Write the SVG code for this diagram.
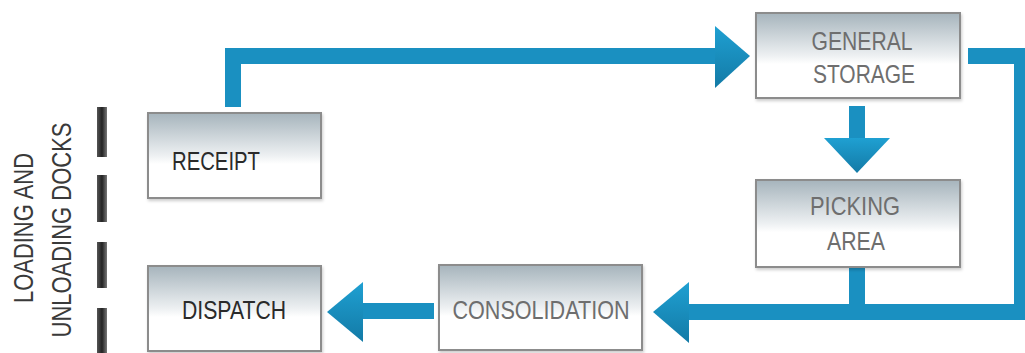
<svg xmlns="http://www.w3.org/2000/svg" width="1025" height="353" viewBox="0 0 1025 353">
<defs>
<linearGradient id="boxg" x1="0" y1="0" x2="0" y2="1">
<stop offset="0" stop-color="#a6b4bc"/>
<stop offset="0.5" stop-color="#edf0f2"/>
<stop offset="0.6" stop-color="#ffffff"/>
<stop offset="1" stop-color="#ffffff"/>
</linearGradient>
<linearGradient id="dock" x1="0" y1="0" x2="1" y2="0">
<stop offset="0" stop-color="#555"/>
<stop offset="0.5" stop-color="#222"/>
<stop offset="1" stop-color="#777"/>
</linearGradient>
<linearGradient id="headg" x1="0" y1="0" x2="0" y2="1">
<stop offset="0" stop-color="#1fa0d2"/>
<stop offset="1" stop-color="#137aa6"/>
</linearGradient>
<filter id="sh" x="-10%" y="-10%" width="120%" height="130%">
<feDropShadow dx="1" dy="2" stdDeviation="1.5" flood-color="#000" flood-opacity="0.2"/>
</filter>
</defs>
<style>
.box{fill:url(#boxg);stroke:#8c8c8c;stroke-width:2;filter:url(#sh)}
.lbl{font-family:"Liberation Sans",Arial,sans-serif;font-size:26px;text-anchor:middle}
.dark{fill:#2a2a2a}
.grey{fill:#6e6e6e}
.side{font-family:"Liberation Sans",Arial,sans-serif;font-size:27px;fill:#3a3a3a;text-anchor:middle}
.shaft{fill:none;stroke:#1a90c1;stroke-width:16;stroke-linejoin:miter;stroke-linecap:butt}
.head{fill:url(#headg)}
.dk{fill:url(#dock)}
</style>
<rect width="1025" height="353" fill="#ffffff"/>

<g id="docks">
<rect class="dk" x="97" y="107" width="10" height="50"/>
<rect class="dk" x="97" y="175" width="10" height="47"/>
<rect class="dk" x="97" y="242" width="10" height="46"/>
<rect class="dk" x="97" y="308" width="10" height="45"/>
<text class="side" transform="translate(33,228) rotate(-90)" textLength="150" lengthAdjust="spacingAndGlyphs">LOADING AND</text>
<text class="side" transform="translate(71,230) rotate(-90)" textLength="215" lengthAdjust="spacingAndGlyphs">UNLOADING DOCKS</text>
</g>

<g id="connectors">
<path class="shaft" d="M233 107 V56 H716"/>
<polygon class="head" points="715,26 750,56 715,88"/>
<path class="shaft" d="M857 106 V140"/>
<polygon class="head" points="824,138 890,138 857,173"/>
<path class="shaft" d="M968 56 H1022 V312 H688"/>
<polygon class="head" points="689,282 653,312 689,343"/>
<path class="shaft" d="M857 268 V312"/>
<path class="shaft" d="M434 311 H361"/>
<polygon class="head" points="363,282 327,312 363,342"/>
</g>

<g id="receipt">
<rect class="box" x="148" y="113" width="173" height="85"/>
<text class="lbl dark" x="216" y="170" textLength="88" lengthAdjust="spacingAndGlyphs">RECEIPT</text>
</g>

<g id="dispatch">
<rect class="box" x="148" y="266" width="173" height="85"/>
<text class="lbl dark" x="234" y="319" textLength="104" lengthAdjust="spacingAndGlyphs">DISPATCH</text>
</g>

<g id="consolidation">
<rect class="box" x="439" y="265" width="203" height="85"/>
<text class="lbl grey" x="541" y="319" textLength="177" lengthAdjust="spacingAndGlyphs">CONSOLIDATION</text>
</g>

<g id="general-storage">
<rect class="box" x="756" y="13" width="204" height="85"/>
<text class="lbl grey" x="862" y="50" textLength="101" lengthAdjust="spacingAndGlyphs">GENERAL</text>
<text class="lbl grey" x="864" y="83" textLength="102" lengthAdjust="spacingAndGlyphs">STORAGE</text>
</g>

<g id="picking-area">
<rect class="box" x="756" y="180" width="204" height="87"/>
<text class="lbl grey" x="855" y="215" textLength="90" lengthAdjust="spacingAndGlyphs">PICKING</text>
<text class="lbl grey" x="856" y="250" textLength="58" lengthAdjust="spacingAndGlyphs">AREA</text>
</g>
</svg>
